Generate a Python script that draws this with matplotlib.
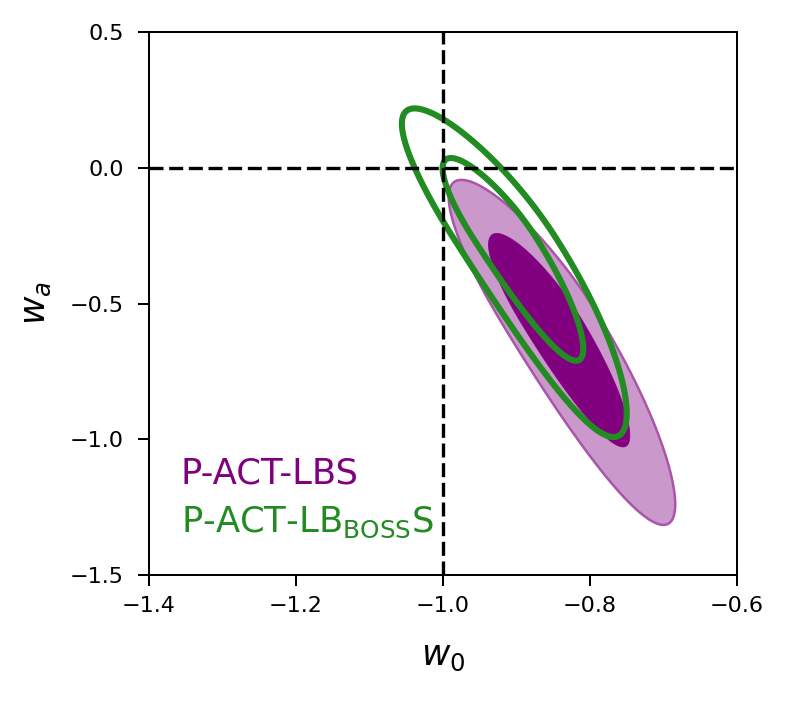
import numpy as np
import matplotlib
matplotlib.use("Agg")
import matplotlib.pyplot as plt

plt.rcParams["mathtext.fontset"] = "dejavusans"

# ---- data (posterior summary parameters) ----
names = ["P-ACT-LBS", r"P-ACT-LB$_{\mathrm{BOSS}}$S"]
wa_mode = [-0.562, -0.258]          # wa peak
wa_sigma_up = [0.2125, 0.195]       # wa spread above the peak
wa_sigma_down = [0.3095, 0.30]      # wa spread below the peak
w0_at_mode = [-0.853, -0.916]       # w0 on the degeneracy line at the wa peak
w0_slope = [-0.222, -0.235]         # d w0 / d wa along the degeneracy
w0_curv = [-0.025, -0.045]          # curvature of the degeneracy line
w0_sigma = [0.0283, 0.0285]         # conditional w0 spread
conf_levels = [0.68, 0.95]
x_ticks = [-1.4, -1.2, -1.0, -0.8, -0.6]
y_ticks = [-1.5, -1.0, -0.5, 0.0, 0.5]
x_range = [-1.4, -0.6]
y_range = [-1.5, 0.5]
ref_w0 = -1.0
ref_wa = 0.0

fig = plt.figure(figsize=(7.88, 7.01), dpi=100)
ax = fig.add_axes([0.189, 0.180, 0.746, 0.774])

xg = np.linspace(x_range[0], x_range[1], 1000)
yg = np.linspace(y_range[0], y_range[1], 1000)
X, Y = np.meshgrid(xg, yg)


def density(i):
    d = Y - wa_mode[i]
    sy = np.where(d >= 0, wa_sigma_up[i], wa_sigma_down[i])
    m = w0_at_mode[i] + w0_slope[i] * d + w0_curv[i] * d ** 2
    return np.exp(-0.5 * (d / sy) ** 2) * np.exp(-0.5 * ((X - m) / w0_sigma[i]) ** 2)


def levels_for(p):
    flat = np.sort(p.ravel())[::-1]
    cum = np.cumsum(flat) / flat.sum()
    return sorted(flat[np.searchsorted(cum, c)] for c in conf_levels)


# purple filled contours
p0 = density(0)
l0 = levels_for(p0)
ax.contourf(X, Y, p0, levels=[l0[0], l0[1], p0.max() * 2],
            colors=["#cb98cb", "#800080"], antialiased=True)
ax.contour(X, Y, p0, levels=[l0[1]], colors=["#800080"], linewidths=0.6)
ax.contour(X, Y, p0, levels=[l0[0]], colors=["#aa55aa"], linewidths=1.8)

# green line contours
p1 = density(1)
l1 = levels_for(p1)
ax.contour(X, Y, p1, levels=l1, colors=["#228b22"], linewidths=4.4)

ax.axvline(ref_w0, color="k", lw=2.4, dashes=(4.2, 1.7), zorder=5)
ax.axhline(ref_wa, color="k", lw=2.4, dashes=(4.2, 1.7), zorder=5)

ax.set_xlim(*x_range)
ax.set_ylim(*y_range)
ax.set_xticks(x_ticks)
ax.set_yticks(y_ticks)
ax.set_xticklabels([f"{v:.1f}".replace("-", "\u2212") for v in x_ticks])
ax.set_yticklabels([f"{v:.1f}".replace("-", "\u2212") for v in y_ticks])
ax.tick_params(direction="out", length=8, width=1.45, labelsize=16)
ax.tick_params(axis="x", pad=7)
ax.tick_params(axis="y", pad=10)
for s in ax.spines.values():
    s.set_linewidth(1.45)

ax.set_xlabel(r"$w_0$", fontsize=25, labelpad=17)
ax.set_ylabel(r"$w_a$", fontsize=25, labelpad=12)

ax.text(0.054, 0.169, names[0], transform=ax.transAxes, color="#800080",
        fontsize=25.5, va="baseline", ha="left")
ax.text(0.054, 0.078, names[1], transform=ax.transAxes, color="#228b22",
        fontsize=25.5, va="baseline", ha="left")

fig.savefig("out.png", dpi=100)
